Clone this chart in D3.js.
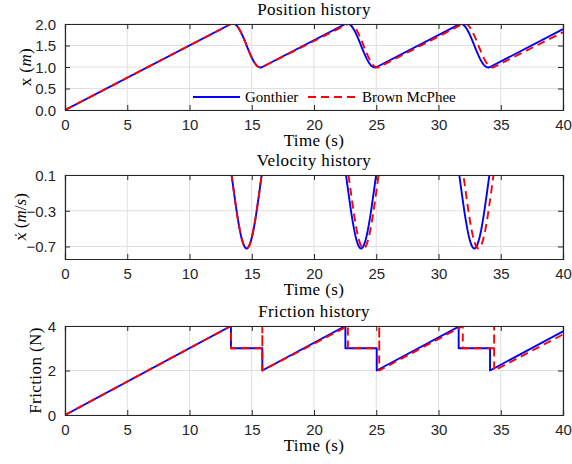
<!DOCTYPE html>
<html><head><meta charset="utf-8">
<script src="https://cdn.jsdelivr.net/npm/d3@7"></script>
<style>body{margin:0;background:#fff}</style>
</head><body><svg id="c" width="572" height="464"></svg>
<script>
// ---------- data ----------
const xTicks = [0, 5, 10, 15, 20, 25, 30, 35, 40];
const posTicks = [0, 0.5, 1.0, 1.5, 2.0];
const velTicks = [0.1, -0.3, -0.7];
const fricTicks = [0, 2, 4];
const seriesNames = ["Gonthier", "Brown McPhee"];

const timeBlue = [0, 13.33,
 13.43,13.53,13.63,13.73,13.83,13.93,14.03,14.13,14.23,14.33,14.43,14.53,14.63,14.73,14.83,14.93,15.03,15.13,15.23,15.33,15.43,15.53,15.63,15.73,
 15.85, 22.52,
 22.62,22.72,22.82,22.92,23.02,23.12,23.22,23.32,23.42,23.52,23.62,23.72,23.82,23.92,24.02,24.12,24.22,24.32,24.42,24.52,24.62,24.72,24.82,24.92,
 25.04, 31.62,
 31.72,31.82,31.92,32.02,32.12,32.22,32.32,32.42,32.52,32.62,32.72,32.82,32.92,33.02,33.12,33.22,33.32,33.42,33.52,33.62,33.72,33.82,33.92,34.02,
 34.14, 40];
const posBlue = [0, 2.0,
 2.010,2.010,1.999,1.979,1.949,1.910,1.863,1.809,1.748,1.683,1.614,1.542,1.470,1.398,1.329,1.263,1.201,1.146,1.097,1.057,1.025,1.004,0.991,0.989,
 1.0, 2.0,
 2.010,2.010,1.999,1.979,1.949,1.910,1.863,1.809,1.748,1.683,1.614,1.542,1.470,1.398,1.329,1.263,1.201,1.146,1.097,1.057,1.025,1.004,0.991,0.989,
 1.0, 1.987,
 2.005,2.005,1.996,1.977,1.948,1.909,1.862,1.808,1.747,1.683,1.614,1.542,1.470,1.398,1.329,1.263,1.201,1.146,1.097,1.057,1.025,1.004,0.991,0.989,
 1.0, 1.879];
const velBlue = [0.15, 0.15,
 0.049,-0.053,-0.154,-0.252,-0.345,-0.431,-0.509,-0.576,-0.632,-0.675,-0.705,-0.720,-0.722,-0.708,-0.681,-0.640,-0.586,-0.521,-0.445,-0.361,-0.268,-0.171,-0.071,0.031,
 0.15, 0.15,
 0.049,-0.053,-0.154,-0.252,-0.345,-0.431,-0.509,-0.576,-0.632,-0.675,-0.705,-0.720,-0.722,-0.708,-0.681,-0.640,-0.586,-0.521,-0.445,-0.361,-0.268,-0.171,-0.071,0.031,
 0.15, 0.15,
 0.049,-0.053,-0.154,-0.252,-0.345,-0.431,-0.509,-0.576,-0.632,-0.675,-0.705,-0.720,-0.722,-0.708,-0.681,-0.640,-0.586,-0.521,-0.445,-0.361,-0.268,-0.171,-0.071,0.031,
 0.15, 0.15];

const timeRed = [0, 13.33,
 13.43,13.53,13.63,13.73,13.83,13.93,14.03,14.13,14.23,14.33,14.43,14.53,14.63,14.73,14.83,14.93,15.03,15.13,15.23,15.33,15.43,15.53,15.63,15.73,
 15.85, 22.72,
 22.82,22.92,23.02,23.12,23.22,23.32,23.42,23.52,23.62,23.72,23.82,23.92,24.02,24.12,24.22,24.32,24.42,24.52,24.62,24.72,24.82,24.92,25.02,25.12,
 25.24, 31.95,
 32.05,32.15,32.25,32.35,32.45,32.55,32.65,32.75,32.85,32.95,33.05,33.15,33.25,33.35,33.45,33.55,33.65,33.75,33.85,33.95,34.05,34.15,34.25,34.35,
 34.47, 40];
const posRed = [0, 2.0,
 2.010,2.010,1.999,1.979,1.949,1.910,1.863,1.809,1.748,1.683,1.614,1.542,1.470,1.398,1.329,1.263,1.201,1.146,1.097,1.057,1.025,1.004,0.991,0.989,
 1.0, 2.0,
 2.010,2.010,1.999,1.979,1.949,1.910,1.863,1.809,1.748,1.683,1.614,1.542,1.470,1.398,1.329,1.263,1.201,1.146,1.097,1.057,1.025,1.004,0.991,0.989,
 1.0, 2.0,
 2.010,2.010,1.999,1.979,1.949,1.910,1.863,1.809,1.748,1.683,1.614,1.542,1.470,1.398,1.329,1.263,1.201,1.146,1.097,1.057,1.025,1.004,0.991,0.989,
 1.0, 1.81];
const velRed = [0.15, 0.15,
 0.049,-0.053,-0.154,-0.252,-0.345,-0.431,-0.509,-0.576,-0.632,-0.675,-0.705,-0.720,-0.722,-0.708,-0.681,-0.640,-0.586,-0.521,-0.445,-0.361,-0.268,-0.171,-0.071,0.031,
 0.146, 0.146,
 0.049,-0.053,-0.154,-0.252,-0.345,-0.431,-0.509,-0.576,-0.632,-0.675,-0.705,-0.720,-0.722,-0.708,-0.681,-0.640,-0.586,-0.521,-0.445,-0.361,-0.268,-0.171,-0.071,0.031,
 0.146, 0.146,
 0.049,-0.053,-0.154,-0.252,-0.345,-0.431,-0.509,-0.576,-0.632,-0.675,-0.705,-0.720,-0.722,-0.708,-0.681,-0.640,-0.586,-0.521,-0.445,-0.361,-0.268,-0.171,-0.071,0.031,
 0.146, 0.146];

const fricTimeBlue = [0, 13.33, 13.33, 15.85, 15.85, 22.52, 22.52, 25.04, 25.04, 31.62, 31.62, 34.14, 34.14, 40];
const fricBlue     = [0, 4.0,   3.0,   3.0,   2.0,   4.0,   3.0,   3.0,   2.0,   3.97,  3.0,   3.0,   2.0,   3.76];
const fricTimeRed = [0, 13.33, 13.33, 15.85, 15.85, 15.85, 22.72, 22.72, 25.24, 25.24, 25.24, 31.95, 31.95, 34.47, 34.47, 34.47, 40];
const fricRed     = [0, 4.0,   3.0,   3.0,   3.92,  2.0,   4.0,   3.0,   3.0,   4.0,   2.0,   4.0,   3.0,   3.0,   4.0,   2.0,   3.62];

// ---------- drawing ----------
const svg = d3.select("#c");
const AX = "#262626", GRID = "#dfdfdf";
const SERIF = "'Liberation Serif','DejaVu Serif',serif";
const SANS = "'Liberation Sans',Arial,sans-serif";
const LBL = 17, LS = "0.4px";
const x = d3.scaleLinear().domain([0, 40]).range([65, 563]);

const zip = (t, v) => t.map((d, i) => [d, v[i]]);

const panels = [
  {title: "Position history", top: 24, bottom: 110, domain: [0, 2], ticks: posTicks, fmt: d3.format(".1f"),
   series: [zip(timeBlue, posBlue), zip(timeRed, posRed)], ylabel: "pos", ylx: 31, legend: true},
  {title: "Velocity history", top: 175, bottom: 259, domain: [-0.84, 0.1], ticks: velTicks, fmt: d3.format(".1f"),
   series: [zip(timeBlue, velBlue), zip(timeRed, velRed)], ylabel: "vel", ylx: 26},
  {title: "Friction history", top: 326, bottom: 415, domain: [0, 4], ticks: fricTicks, fmt: d3.format("d"),
   series: [zip(fricTimeBlue, fricBlue), zip(fricTimeRed, fricRed)], ylabel: "fric", ylx: 41}
];
const colors = ["#0000ff", "#ff0000"];
const dashes = [null, "8,5"];

panels.forEach((p, pi) => {
  const y = d3.scaleLinear().domain(p.domain).range([p.bottom, p.top]);
  const g = svg.append("g");
  const [x0, x1] = x.range();
  const clipId = "clip" + pi;
  svg.append("clipPath").attr("id", clipId).append("rect")
    .attr("x", x0).attr("y", p.top).attr("width", x1 - x0).attr("height", p.bottom - p.top);

  // grid
  g.append("g").selectAll("line").data(xTicks).join("line")
    .attr("x1", d => x(d)).attr("x2", d => x(d)).attr("y1", p.top).attr("y2", p.bottom)
    .attr("stroke", GRID).attr("stroke-width", 1);
  g.append("g").selectAll("line").data(p.ticks).join("line")
    .attr("x1", x0).attr("x2", x1).attr("y1", d => y(d)).attr("y2", d => y(d))
    .attr("stroke", GRID).attr("stroke-width", 1);

  // series
  const line = d3.line().x(d => x(d[0])).y(d => y(d[1]));
  const lg = g.append("g").attr("clip-path", `url(#${clipId})`);
  p.series.forEach((s, si) => {
    lg.append("path").datum(s).attr("d", line).attr("fill", "none")
      .attr("stroke", colors[si]).attr("stroke-width", 1.9)
      .attr("stroke-dasharray", dashes[si]).attr("stroke-linejoin", "round");
  });

  // axes (ticks inward, box)
  const ax = g.append("g").attr("transform", `translate(0,${p.bottom})`)
    .call(d3.axisBottom(x).tickValues(xTicks).tickSize(-5).tickPadding(9).tickFormat(d3.format("d")));
  const axT = g.append("g").attr("transform", `translate(0,${p.top})`)
    .call(d3.axisTop(x).tickValues(xTicks).tickSize(-5).tickFormat(""));
  const ay = g.append("g").attr("transform", `translate(${x0},0)`)
    .call(d3.axisLeft(y).tickValues(p.ticks).tickSize(-5).tickPadding(9).tickFormat(p.fmt));
  const ayR = g.append("g").attr("transform", `translate(${x1},0)`)
    .call(d3.axisRight(y).tickValues(p.ticks).tickSize(-5).tickFormat(""));
  [ax, axT, ay, ayR].forEach(a => {
    a.select(".domain").attr("stroke", AX).attr("stroke-width", 1.2);
    a.selectAll(".tick line").attr("stroke", AX).attr("stroke-width", 1);
    a.selectAll("text").attr("fill", AX).attr("font-family", SANS).attr("font-size", 15);
  });
  ay.selectAll("text").attr("dy", "0.36em");

  // title
  svg.append("text").attr("x", (x0 + x1) / 2).attr("y", p.top - 9).attr("text-anchor", "middle")
    .attr("font-family", SERIF).attr("font-size", LBL).attr("letter-spacing", LS).attr("fill", "#000").text(p.title);
  // x label
  svg.append("text").attr("x", (x0 + x1) / 2).attr("y", p.bottom + 36).attr("text-anchor", "middle")
    .attr("font-family", SERIF).attr("font-size", LBL).attr("letter-spacing", LS).attr("fill", "#000").text("Time (s)");
  // y label
  const yl = svg.append("text").attr("transform", `translate(${p.ylx},${(p.top + p.bottom) / 2}) rotate(-90)`)
    .attr("text-anchor", "middle").attr("font-family", SERIF).attr("font-size", LBL).attr("fill", "#000");
  if (p.ylabel === "pos") {
    yl.attr("letter-spacing", LS);
    yl.append("tspan").text("x (");
    yl.append("tspan").attr("font-style", "italic").text("m");
    yl.append("tspan").text(")");
  } else if (p.ylabel === "vel") {
    yl.append("tspan").attr("font-style", "italic").attr("font-family", "'DejaVu Serif',serif")
      .attr("font-size", 15).text("\u1E8B");
    yl.append("tspan").text(" (");
    yl.append("tspan").attr("font-style", "italic").text("m");
    yl.append("tspan").text("/");
    yl.append("tspan").attr("font-style", "italic").text("s");
    yl.append("tspan").text(")");
  } else {
    yl.attr("letter-spacing", LS);
    yl.text("Friction (N)");
  }

  // legend
  if (p.legend) {
    const ly = 97;
    const items = [{x1: 193, x2: 240, tx: 245}, {x1: 308, x2: 357, tx: 362}];
    items.forEach((it, i) => {
      svg.append("line").attr("x1", it.x1).attr("x2", it.x2).attr("y1", ly).attr("y2", ly)
        .attr("stroke", colors[i]).attr("stroke-width", 1.9).attr("stroke-dasharray", dashes[i]);
      svg.append("text").attr("x", it.tx).attr("y", ly + 5).attr("font-family", SERIF)
        .attr("font-size", 15).attr("fill", "#000").text(seriesNames[i]);
    });
  }
});
</script></body></html>
